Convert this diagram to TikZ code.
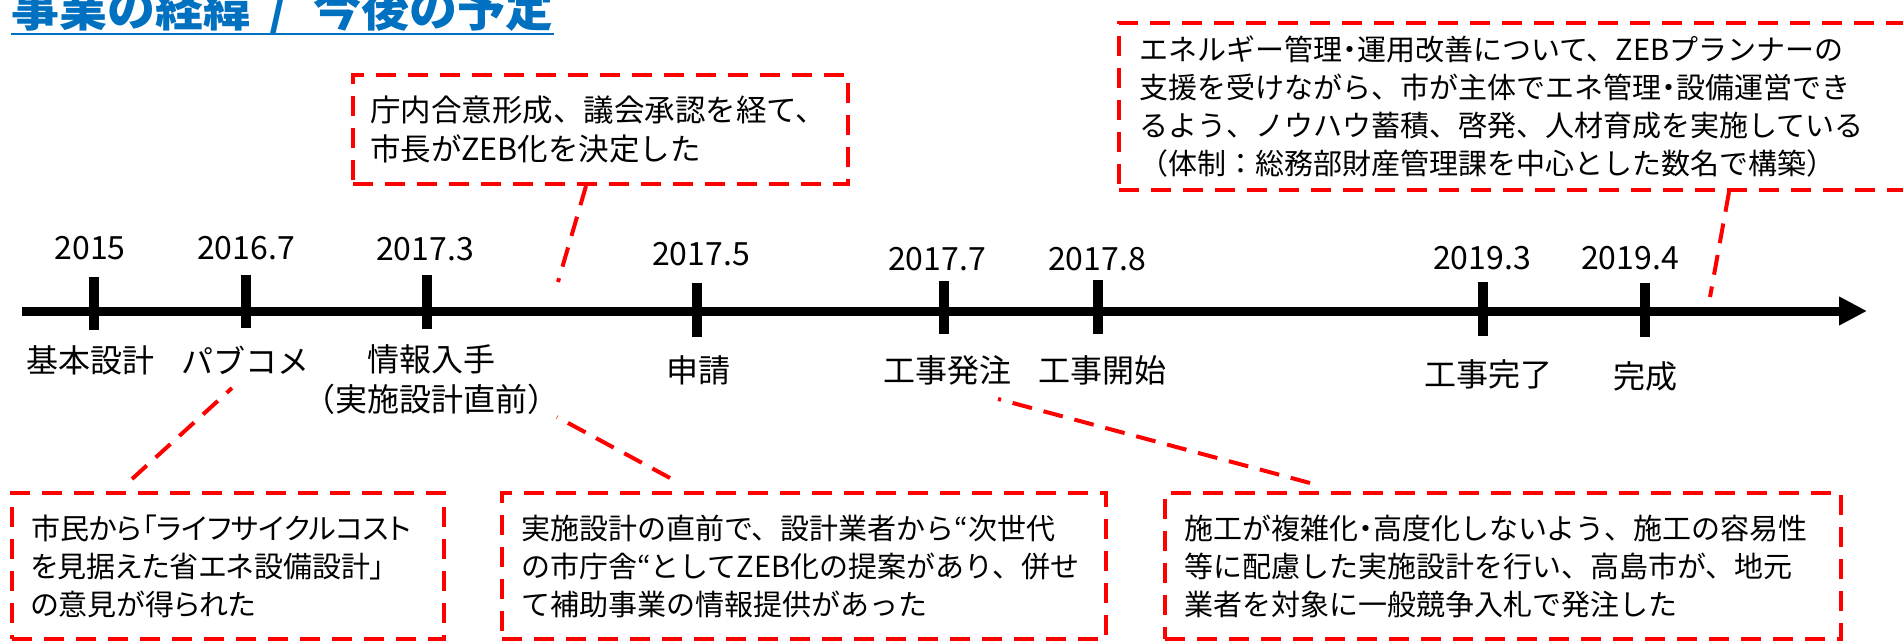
\documentclass[tikz,border=0pt]{standalone}
\usepackage{fontspec}
\setmainfont{Noto Sans CJK JP}
\usetikzlibrary{arrows.meta}
\definecolor{memored}{RGB}{255,0,0}
\definecolor{titleblue}{RGB}{0,112,192}
\newcommand{\nakaguro}{\makebox[15pt]{・}}
\tikzset{
  memo/.style={draw=memored, line width=4pt, dash pattern=on 20pt off 12pt,
    align=left, anchor=north west, inner xsep=19pt, inner ysep=0pt,
    font=\fontsize{29}{38}\selectfont},
  memolink/.style={draw=memored, line width=4pt, dash pattern=on 20pt off 12pt},
  yearlabel/.style={font=\fontsize{32}{40}\selectfont, inner sep=0pt},
  eventlabel/.style={font=\fontsize{32}{40}\selectfont, align=center, inner sep=0pt},
  tickmark/.style={line width=10pt}
}
\begin{document}
\begin{tikzpicture}[x=1pt,y=-1pt]
\useasboundingbox (0,0) rectangle (1903,640);
\clip (0,0) rectangle (1903,640);
% title
\node[anchor=base west, inner sep=0pt, text=titleblue, font=\fontsize{48}{56}\selectfont\bfseries] (title) at (11,26) {事業の経緯\hspace{18pt}/\hspace{26pt}今後の予定};
\draw[titleblue, line width=2.7pt] ([yshift=-8pt]title.base west) -- ([yshift=-8pt]title.base east);
% time axis
\coordinate (axisStart) at (22,311);
\coordinate (axisEnd) at (1867,311);
\draw[line width=9pt, -{Triangle[length=28pt, width=27pt]}] (axisStart) -- (axisEnd);
\draw[tickmark] (94,277) -- (94,330);
\draw[tickmark] (246,275) -- (246,328);
\draw[tickmark] (427,275) -- (427,329);
\draw[tickmark] (697,283) -- (697,337);
\draw[tickmark] (944,281) -- (944,334);
\draw[tickmark] (1098,280) -- (1098,334);
\draw[tickmark] (1483,282) -- (1483,336);
\draw[tickmark] (1645,283) -- (1645,337);
% dates
\node[yearlabel] (d2015) at (90,248) {2015};
\node[yearlabel] (d2016m7) at (246,248) {2016.7};
\node[yearlabel] (d2017m3) at (425,249) {2017.3};
\node[yearlabel] (d2017m5) at (701,254) {2017.5};
\node[yearlabel] (d2017m7) at (937,259) {2017.7};
\node[yearlabel] (d2017m8) at (1097,259) {2017.8};
\node[yearlabel] (d2019m3) at (1482,258) {2019.3};
\node[yearlabel] (d2019m4) at (1630,258) {2019.4};
% events
\node[eventlabel] (evBasic) at (90,360) {基本設計};
\node[eventlabel] (evComment) at (245,360) {パブコメ};
\node[eventlabel] (evInfo) at (431,380) {情報入手\\（実施設計直前）};
\node[eventlabel] (evApply) at (698,370) {申請};
\node[eventlabel] (evOrder) at (947,370) {工事発注};
\node[eventlabel] (evStart) at (1102,370) {工事開始};
\node[eventlabel] (evDone) at (1488,374) {工事完了};
\node[eventlabel] (evComplete) at (1645,376) {完成};
% memos
\node[memo, text width=766pt, minimum width=806pt, minimum height=167pt] (memoPlanner) at (1117,21)
  {エネルギー管理\nakaguro 運用改善について、ZEBプランナーの\\
   支援を受けながら、市が主体でエネ管理\nakaguro 設備運営でき\\
   るよう、ノウハウ蓄積、啓発、人材育成を実施している\\
   （体制：総務部財産管理課を中心とした数名で構築）};
\node[memo, inner xsep=17pt, text width=461pt, minimum width=495pt, minimum height=109pt, font=\fontsize{30.5}{39}\selectfont] (memoDecide) at (351,73)
  {庁内合意形成、議会承認を経て、\\
   市長がZEB化を決定した};
\node[memo, text width=394pt, minimum width=432pt, minimum height=146pt] (memoPublic) at (10,491)
  {\addfontfeatures{RawFeature=+palt}市民から「ライフサイクルコスト\\
   を見据えた省エネ設備設計」\\
   の意見が得られた};
\node[memo, text width=566pt, minimum width=604pt, minimum height=146pt] (memoProposal) at (500,491)
  {実施設計の直前で、設計業者から“次世代\\
   の市庁舎“としてZEB化の提案があり、併せ\\
   て補助事業の情報提供があった};
\node[memo, text width=638pt, minimum width=676pt, minimum height=146pt] (memoOrder) at (1163,491)
  {施工が複雑化\nakaguro 高度化しないよう、施工の容易性\\
   等に配慮した実施設計を行い、高島市が、地元\\
   業者を対象に一般競争入札で発注した};
% links
\coordinate (linkPlanner) at (1710,297);
\coordinate (linkDecide) at (558,282);
\coordinate (linkPublic) at (232,388);
\coordinate (linkProposal) at (557,417);
\coordinate (linkOrder) at (998,399);
\draw[memolink] ([xshift=612pt]memoPlanner.south west) -- (linkPlanner);
\draw[memolink] ([xshift=235pt]memoDecide.south west) -- (linkDecide);
\draw[memolink] ([shift={(122pt,12pt)}]memoPublic.north west) -- (linkPublic);
\draw[memolink] ([shift={(170pt,13pt)}]memoProposal.north west) -- (linkProposal);
\draw[memolink] ([shift={(147pt,8pt)}]memoOrder.north west) -- (linkOrder);
\end{tikzpicture}
\end{document}
